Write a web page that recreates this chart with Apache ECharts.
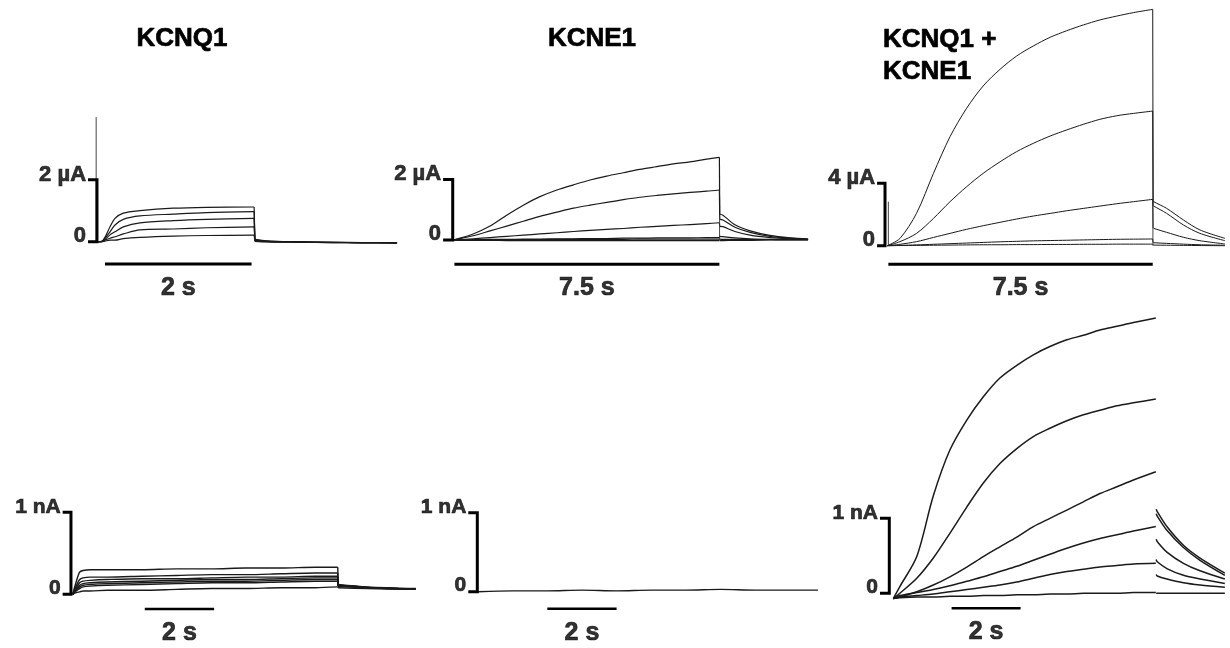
<!DOCTYPE html>
<html><head><meta charset="utf-8">
<script src="https://cdn.jsdelivr.net/npm/echarts@6/dist/echarts.min.js"></script>
<style>html,body{margin:0;padding:0;background:#fff}#c{width:1230px;height:648px}</style>
</head><body><div id="c"></div>
<script>
// ================= DATA (time in s, current in µA top row / nA bottom row) =================
// Panel titles
const titles = ['KCNQ1', 'KCNE1', 'KCNQ1 +\nKCNE1'];
// Scale bars
const scaleCurrent = [2, 2, 4, 1, 1, 1];
const scaleUnit = ['µA', 'µA', 'µA', 'nA', 'nA', 'nA'];
const scaleTime = [2, 7.5, 7.5, 2, 2, 2];

// Panel 1: KCNQ1, oocyte
const p1Time = [0, 0.05, 0.095, 0.164, 0.232, 0.345, 0.573, 1.027, 1.483, 2.13];
const p1T1 = [0, 0.01, 0.14, 0.48, 0.75, 0.92, 1.0, 1.08, 1.11, 1.12];
const p1T2 = [0, 0.01, 0.11, 0.32, 0.54, 0.72, 0.83, 0.89, 0.94, 0.97];
const p1T3 = [0, 0.0, 0.07, 0.22, 0.32, 0.48, 0.61, 0.68, 0.72, 0.75];
const p1T4 = [0, 0.0, 0.05, 0.11, 0.16, 0.25, 0.38, 0.41, 0.45, 0.48];
const p1T5 = [0, 0.0, 0.02, 0.05, 0.05, 0.1, 0.14, 0.18, 0.2, 0.21];
const p1TailTime = [2.14, 2.3, 2.7, 3.2, 3.6, 4.08];
const p1Tail1 = [0.08, 0.03, 0.0, -0.02, -0.03, -0.04];
const p1Tail2 = [0.06, 0.02, 0.0, -0.02, -0.03, -0.04];
const p1Tail3 = [0.05, 0.01, -0.01, -0.02, -0.03, -0.04];
const p1Tail4 = [0.03, 0.0, -0.01, -0.03, -0.03, -0.04];
const p1Tail5 = [0.01, -0.01, -0.02, -0.03, -0.04, -0.04];
const p1Artifacts = [[-0.025, 0, 4.02]];

// Panel 2: KCNE1, oocyte
const p2Time = [0, 0.1, 0.57, 1.05, 1.52, 1.99, 2.46, 2.94, 3.41, 3.88, 4.35, 4.82, 5.29, 5.77, 6.24, 6.71, 7.18, 7.54];
const p2T1 = [0, 0.03, 0.2, 0.46, 0.82, 1.15, 1.43, 1.65, 1.82, 1.98, 2.11, 2.22, 2.33, 2.42, 2.51, 2.58, 2.67, 2.73];
const p2T2 = [0, 0.02, 0.14, 0.3, 0.46, 0.62, 0.78, 0.92, 1.05, 1.15, 1.24, 1.33, 1.41, 1.47, 1.52, 1.57, 1.61, 1.65];
const p2T3 = [0, 0.01, 0.04, 0.08, 0.12, 0.16, 0.2, 0.24, 0.28, 0.32, 0.35, 0.38, 0.42, 0.45, 0.48, 0.51, 0.54, 0.57];
const p2T4 = [0, 0, 0.01, 0.02, 0.02, 0.03, 0.03, 0.04, 0.04, 0.05, 0.05, 0.06, 0.06, 0.07, 0.07, 0.07, 0.08, 0.08];
const p2T5 = [0, 0, 0, 0.01, 0.01, 0.01, 0.01, 0.02, 0.02, 0.02, 0.02, 0.02, 0.03, 0.03, 0.03, 0.03, 0.03, 0.03];
const p2T6 = [0, -0.01, -0.01, -0.01, -0.02, -0.02, -0.02, -0.02, -0.02, -0.02, -0.02, -0.02, -0.02, -0.02, -0.02, -0.02, -0.02, -0.02];
const p2TailTime = [7.55, 7.64, 7.98, 8.41, 8.97, 9.54, 10.05];
const p2Tail1 = [0.85, 0.82, 0.5, 0.3, 0.15, 0.07, 0.03];
const p2Tail2 = [0.68, 0.66, 0.42, 0.25, 0.12, 0.06, 0.03];
const p2Tail3 = [0.45, 0.44, 0.28, 0.16, 0.08, 0.04, 0.02];
const p2Tail4 = [0.12, 0.11, 0.07, 0.04, 0.02, 0.01, 0.01];
const p2Tail5 = [0.03, 0.02, 0.02, 0.01, 0.01, 0.01, 0.01];
const p2Tail6 = [-0.02, -0.02, -0.01, -0.01, 0, 0, 0];
const p2Artifacts = [[7.545, -0.02, 0.85]];

// Panel 3: KCNQ1 + KCNE1, oocyte
const p3Time = [0, 0.36, 0.83, 1.31, 1.78, 2.25, 2.72, 3.2, 3.67, 4.14, 4.62, 5.09, 5.56, 6.03, 6.51, 6.98, 7.53];
const p3T1 = [0, 0.47, 2.08, 4.64, 6.99, 8.81, 10.24, 11.31, 12.16, 12.8, 13.36, 13.78, 14.15, 14.47, 14.72, 14.94, 15.15];
const p3T2 = [0, 0.26, 0.79, 1.75, 2.82, 3.78, 4.64, 5.38, 6.03, 6.56, 7.03, 7.42, 7.78, 8.1, 8.33, 8.48, 8.63];
const p3T3 = [0, 0.09, 0.26, 0.53, 0.79, 1.05, 1.28, 1.5, 1.71, 1.9, 2.07, 2.24, 2.39, 2.54, 2.69, 2.82, 2.97];
const p3T4 = [0, 0.02, 0.05, 0.09, 0.13, 0.17, 0.21, 0.25, 0.28, 0.31, 0.33, 0.35, 0.37, 0.39, 0.41, 0.42, 0.43];
const p3T5 = [0, 0.01, 0.02, 0.03, 0.04, 0.05, 0.06, 0.06, 0.07, 0.07, 0.08, 0.08, 0.09, 0.09, 0.1, 0.1, 0.1];
const p3TailTime = [7.54, 7.56, 7.92, 8.4, 8.87, 9.58];
const p3Tail1 = [2.9, 2.82, 2.4, 1.65, 1.01, 0.47];
const p3Tail2 = [2.6, 2.54, 2.08, 1.33, 0.79, 0.32];
const p3Tail3 = [1.15, 1.11, 0.86, 0.54, 0.32, 0.11];
const p3Tail4 = [0.2, 0.19, 0.15, 0.1, 0.06, 0.03];
const p3Tail5 = [0.05, 0.04, 0.03, 0.02, 0.01, 0];
const p3Artifacts = [[0.03, 0, 2.82], [7.535, 0, 2.9]];

// Panel 4: KCNQ1, CHO cell
const p4Time = [0, 0.1, 0.2, 0.3, 0.5, 1, 2, 3, 4, 5, 6, 7, 7.65];
const p4T1 = [0, 0.15, 0.27, 0.29, 0.3, 0.3, 0.3, 0.31, 0.31, 0.32, 0.32, 0.33, 0.33];
const p4T2 = [0, 0.1, 0.18, 0.2, 0.21, 0.21, 0.22, 0.23, 0.24, 0.24, 0.25, 0.26, 0.26];
const p4T3 = [0, 0.08, 0.14, 0.16, 0.17, 0.18, 0.19, 0.19, 0.2, 0.21, 0.21, 0.22, 0.22];
const p4T4 = [0, 0.06, 0.11, 0.13, 0.14, 0.15, 0.16, 0.17, 0.18, 0.18, 0.19, 0.2, 0.2];
const p4T5 = [0, 0.05, 0.09, 0.11, 0.12, 0.13, 0.14, 0.15, 0.16, 0.16, 0.17, 0.18, 0.18];
const p4T6 = [0, 0.04, 0.07, 0.09, 0.1, 0.11, 0.12, 0.13, 0.14, 0.14, 0.15, 0.16, 0.16];
const p4T7 = [0, 0.02, 0.03, 0.04, 0.04, 0.05, 0.05, 0.06, 0.07, 0.07, 0.08, 0.08, 0.09];
const p4TailTime = [7.66, 8.5, 9.9];
const p4Tail1 = [0.12, 0.09, 0.07];
const p4Tail2 = [0.11, 0.085, 0.065];
const p4Tail3 = [0.11, 0.085, 0.065];
const p4Tail4 = [0.1, 0.08, 0.065];
const p4Tail5 = [0.1, 0.08, 0.065];
const p4Tail6 = [0.1, 0.08, 0.06];
const p4Tail7 = [0.08, 0.07, 0.06];

// Panel 5: KCNE1, CHO cell
const p5Time = [0, 1, 2, 3, 4, 5, 6, 7, 8, 9, 9.81];
const p5T1 = [0.0, 0.01, 0.01, 0.02, 0.01, 0.02, 0.02, 0.03, 0.02, 0.02, 0.02];

// Panel 6: KCNQ1 + KCNE1, CHO cell
const p6Time = [0, 0.19, 0.68, 1.16, 1.64, 2.13, 2.61, 3.09, 3.58, 4.06, 4.54, 5.03, 5.51, 5.99, 6.48, 6.96, 7.61];
const p6T1 = [-0.07, 0.09, 0.49, 1.3, 1.91, 2.31, 2.62, 2.87, 3.04, 3.18, 3.29, 3.38, 3.44, 3.51, 3.56, 3.61, 3.67];
const p6T2 = [-0.07, 0, 0.2, 0.47, 0.8, 1.15, 1.47, 1.73, 1.93, 2.09, 2.2, 2.3, 2.38, 2.44, 2.5, 2.54, 2.59];
const p6T3 = [-0.07, -0.05, 0.02, 0.11, 0.22, 0.35, 0.49, 0.62, 0.75, 0.89, 1.0, 1.11, 1.22, 1.33, 1.42, 1.51, 1.62];
const p6T4 = [-0.07, -0.03, 0.01, 0.05, 0.1, 0.16, 0.22, 0.29, 0.36, 0.44, 0.52, 0.6, 0.67, 0.73, 0.78, 0.83, 0.89];
const p6T5 = [-0.07, -0.05, -0.03, -0.01, 0.02, 0.05, 0.08, 0.11, 0.15, 0.2, 0.25, 0.29, 0.32, 0.35, 0.37, 0.39, 0.4];
const p6T6 = [-0.07, -0.06, -0.05, -0.05, -0.04, -0.04, -0.03, -0.03, -0.02, -0.02, -0.01, -0.01, 0, 0, 0, 0.01, 0.01];
const p6TailTime = [7.62, 7.65, 7.93, 8.41, 8.89, 9.61];
const p6Tail1 = [1.12, 1.09, 0.89, 0.64, 0.47, 0.27];
const p6Tail2 = [1.06, 1.03, 0.84, 0.61, 0.44, 0.24];
const p6Tail3 = [0.72, 0.69, 0.55, 0.4, 0.3, 0.19];
const p6Tail4 = [0.45, 0.42, 0.33, 0.24, 0.19, 0.13];
const p6Tail5 = [0.25, 0.23, 0.19, 0.14, 0.11, 0.08];
const p6Tail6 = [0.0, 0.0, 0.0, 0.0, 0.0, 0.0];

// ================= LAYOUT =================
const FONT = "'Liberation Sans', Arial, Helvetica, sans-serif";
// origin pixel of (t=0, I=0), pixels per second, pixels per current unit, grid box [l,t,r,b]
const layout = [
  {x0: 98,    pps: 73.3,  y0: 241.7, ppu: 31,   box: [20, 100, 410, 305]},
  {x0: 453,   pps: 35.33, y0: 240,   ppu: 30.3, box: [380, 130, 820, 305]},
  {x0: 887.3, pps: 35.25, y0: 245.7, ppu: 15.6, box: [800, 0, 1230, 305]},
  {x0: 72.7,  pps: 34.65, y0: 594.3, ppu: 82,   box: [0, 480, 430, 648]},
  {x0: 478,   pps: 34.65, y0: 591.7, ppu: 79,   box: [400, 480, 830, 648]},
  {x0: 893.3, pps: 34.5,  y0: 593.3, ppu: 75,   box: [820, 290, 1230, 648]}
];
// scale-bar placement in axis units: vertical bar x, tick x, horizontal bar start t and level
const bars = [
  {vx: -0.014, tx: -0.136, ht: 0.095, hy: -0.72,  hw: 3.2},
  {vx: -0.008, tx: -0.28,  ht: 0.04,  hy: -0.8,   hw: 3.2},
  {vx: -0.065, tx: -0.29,  ht: 0.03,  hy: -1.19,  hw: 3.2},
  {vx: -0.05,  tx: -0.29,  ht: 2.08,  hy: -0.18,  hw: 2.6},
  {vx: -0.02,  tx: -0.28,  ht: 2.0,   hy: -0.215, hw: 2.6},
  {vx: -0.116, tx: -0.386, ht: 1.69,  hy: -0.2,   hw: 2.6}
];

const panels = [
  {time: p1Time, traces: [p1T1, p1T2, p1T3, p1T4, p1T5], tailTime: p1TailTime, tails: [p1Tail1, p1Tail2, p1Tail3, p1Tail4, p1Tail5], connect: true, artifacts: p1Artifacts, lw: 1.2},
  {time: p2Time, traces: [p2T1, p2T2, p2T3, p2T4, p2T5, p2T6], tailTime: p2TailTime, tails: [p2Tail1, p2Tail2, p2Tail3, p2Tail4, p2Tail5, p2Tail6], connect: true, artifacts: p2Artifacts, lw: 1.2},
  {time: p3Time, traces: [p3T1, p3T2, p3T3, p3T4, p3T5], tailTime: p3TailTime, tails: [p3Tail1, p3Tail2, p3Tail3, p3Tail4, p3Tail5], connect: true, artifacts: p3Artifacts, lw: 1},
  {time: p4Time, traces: [p4T1, p4T2, p4T3, p4T4, p4T5, p4T6, p4T7], tailTime: p4TailTime, tails: [p4Tail1, p4Tail2, p4Tail3, p4Tail4, p4Tail5, p4Tail6, p4Tail7], connect: true, artifacts: [], lw: 1.4},
  {time: p5Time, traces: [p5T1], tailTime: [], tails: [], connect: false, artifacts: [], lw: 1.4},
  {time: p6Time, traces: [p6T1, p6T2, p6T3, p6T4, p6T5, p6T6], tailTime: p6TailTime, tails: [p6Tail1, p6Tail2, p6Tail3, p6Tail4, p6Tail5, p6Tail6], connect: false, artifacts: [], lw: 1.5}
];

// ================= BUILD =================
const grid = [], xAxis = [], yAxis = [], series = [];
const INK = '#1a1a1a';
function pairs(ts, vs) { return ts.map((t, i) => [t, vs[i]]); }
function line(gi, data, width, color, smooth, z) {
  return {type: 'line', xAxisIndex: gi, yAxisIndex: gi, data: data, symbol: 'none', showSymbol: false,
    smooth: smooth ? 0.3 : false, clip: false, silent: true, animation: false, z: z || 2,
    lineStyle: {color: color || INK, width: width, cap: 'butt', join: 'miter'}};
}
layout.forEach((L, gi) => {
  const [l, t, r, b] = L.box;
  grid.push({left: l, top: t, width: r - l, height: b - t, containLabel: false, show: false});
  xAxis.push({type: 'value', gridIndex: gi, min: (l - L.x0) / L.pps, max: (r - L.x0) / L.pps, show: false});
  yAxis.push({type: 'value', gridIndex: gi, min: (L.y0 - b) / L.ppu, max: (L.y0 - t) / L.ppu, show: false});

  const P = panels[gi];
  P.traces.forEach((tr, k) => {
    series.push(line(gi, pairs(P.time, tr), P.lw, INK, true));
    if (P.tails.length) {
      const tail = pairs(P.tailTime, P.tails[k]);
      series.push(line(gi, tail, P.lw, INK, true));
      if (P.connect) {
        series.push(line(gi, [[P.time[P.time.length - 1], tr[tr.length - 1]], tail[0]], P.lw, INK, false));
      }
    }
  });
  P.artifacts.forEach(a => series.push(line(gi, [[a[0], a[1]], [a[0], a[2]]], 0.9, '#333', false)));

  // scale bars
  const B = bars[gi], S = scaleCurrent[gi], T = scaleTime[gi];
  series.push(line(gi, [[B.tx, S], [B.vx, S], [B.vx, 0], [B.tx, 0]], 3, '#000', false, 5));
  series.push(line(gi, [[B.ht, B.hy], [B.ht + T, B.hy]], B.hw, '#000', false, 5));
  // scale labels
  const curFont = gi < 3 ? 22 : 21;
  series.push({
    type: 'scatter', xAxisIndex: gi, yAxisIndex: gi, symbolSize: 0, silent: true, animation: false, clip: false, z: 6,
    data: [
      {value: [B.tx, S], label: {formatter: S + ' ' + scaleUnit[gi], align: 'right', offset: [-2, -5], fontSize: curFont}},
      {value: [B.tx, 0], label: {formatter: '0', align: 'right', offset: [-2, -6], fontSize: curFont}},
      {value: [B.ht + T / 2, B.hy], label: {formatter: T + ' s', align: 'center', offset: [0, 24], fontSize: 25}}
    ],
    label: {show: true, position: [0, 0], verticalAlign: 'middle', color: '#000', fontWeight: 'bold', fontFamily: FONT,
            textBorderColor: '#000', textBorderWidth: 0.7}
  });
});

const titlePos = [[182, 39, 'center'], [592, 39, 'center'], [883, 40, 'left']];
const graphic = [];
titles.forEach((tx, i) => {
  tx.split('\n').forEach((ln, j) => {
    graphic.push({type: 'text', x: titlePos[i][0], y: titlePos[i][1] + j * 32, silent: true,
      style: {text: ln, font: 'bold 26px ' + FONT, fill: '#000', stroke: '#000', lineWidth: 0.7,
              align: titlePos[i][2], verticalAlign: 'middle',
              textAlign: titlePos[i][2], textVerticalAlign: 'middle'}});
  });
});

const chart = echarts.init(document.getElementById('c'), null, {renderer: 'canvas'});
chart.setOption({backgroundColor: '#fff', animation: false, grid, xAxis, yAxis, series, graphic});
</script></body></html>
